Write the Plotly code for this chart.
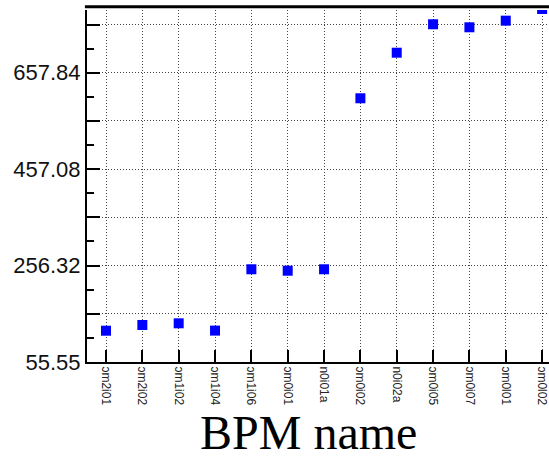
import plotly.graph_objects as go

bpm_labels = ["ɔm2i01", "ɔm2i02", "ɔm1i02", "ɔm1i04", "ɔm1i06", "ɔm0i01", "n0i01a",
              "ɔm0i02", "n0i02a", "ɔm0i05", "ɔm0i07", "ɔm0l01", "ɔm0l02"]
values = [120.7, 132.6, 136.1, 120.9, 248.6, 245.6, 248.6,
          604.6, 699.5, 758.7, 752.4, 766.2, 790.5]

y_min = 55.55
y_step = 100.38
y_top = 788.4
y_major = [round(y_min + k * y_step, 2) for k in range(8)]
y_ticktext = ["55.55", "", "256.32", "", "457.08", "", "657.84", ""]

x_idx = list(range(len(bpm_labels)))

fig = go.Figure()
fig.add_trace(go.Scatter(
    x=x_idx, y=values, mode="markers",
    marker=dict(symbol="square", size=10, color="#0000ff", line=dict(width=0)),
    showlegend=False,
))

fig.update_layout(
    width=549, height=458,
    margin=dict(l=87, r=0, t=10, b=96),
    paper_bgcolor="white", plot_bgcolor="white",
    font=dict(family="Liberation Sans, Arial, sans-serif", color="#111"),
    xaxis=dict(
        range=[-0.523, 12.19],
        tickmode="array", tickvals=x_idx, ticktext=bpm_labels,
        tickangle=90, ticklabeloverflow="allow",
        tickfont=dict(size=12, color="#222"),
        ticks="inside", ticklen=12, tickwidth=1.5, tickcolor="black",
        showline=True, linecolor="black", linewidth=2,
        showgrid=True, gridcolor="#444", gridwidth=1, griddash="1px,2px",
        zeroline=False,
    ),
    yaxis=dict(
        range=[y_min, y_top],
        tickmode="array", tickvals=y_major, ticktext=y_ticktext,
        tickfont=dict(size=22, color="#111"),
        ticks="inside", ticklen=13, tickwidth=1.5, tickcolor="black",
        showline=True, linecolor="black", linewidth=2,
        showgrid=True, gridcolor="#444", gridwidth=1, griddash="1px,2px",
        zeroline=False,
        minor=dict(tickmode="linear", tick0=y_min, dtick=y_step / 2,
                   ticks="inside", ticklen=7, tickwidth=1.5, tickcolor="black",
                   showgrid=False),
    ),
    shapes=[dict(type="line", xref="paper", yref="paper",
                 x0=-0.0045, x1=1.0, y0=1.0095, y1=1.0095,
                 line=dict(color="black", width=3))],
    annotations=[dict(text="BPM name", xref="paper", yref="paper",
                      x=0.4805, y=-0.2, xanchor="center", yanchor="middle",
                      showarrow=False,
                      font=dict(family="Liberation Serif, Times New Roman, serif",
                                size=48, color="black"))],
)

fig.write_html("out.html")
